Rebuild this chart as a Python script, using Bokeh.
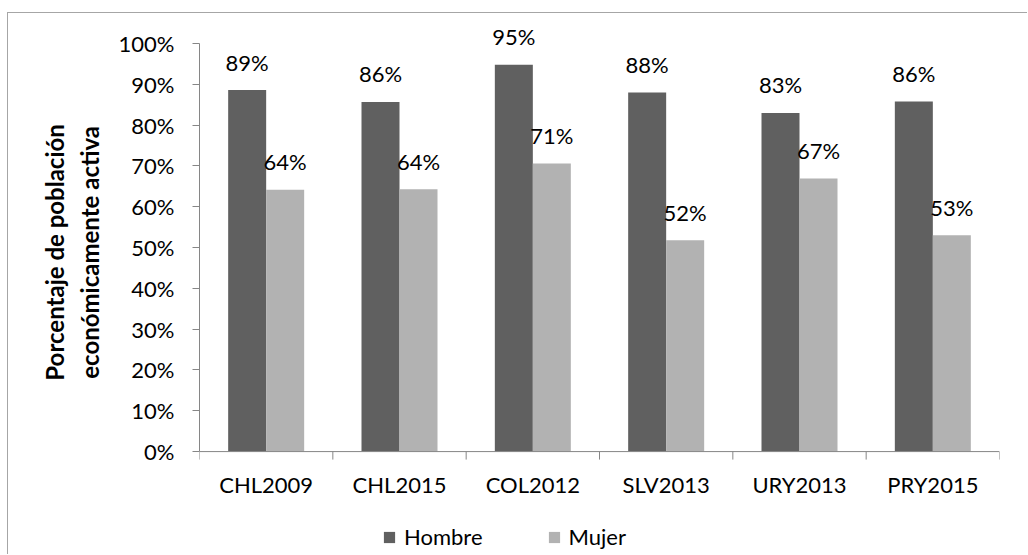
from bokeh.plotting import figure
from bokeh.models import Range1d, FixedTicker, ColumnDataSource, Legend, LegendItem
from bokeh.core.properties import value
from bokeh.embed import file_html
from bokeh.resources import INLINE

categories = ["CHL2009", "CHL2015", "COL2012", "SLV2013", "URY2013", "PRY2015"]
hombre = [88.6, 85.7, 94.8, 88.0, 83.0, 85.8]
mujer = [64.2, 64.3, 70.6, 51.8, 66.9, 53.0]
series_names = ["Hombre", "Mujer"]
y_ticks = [0, 10, 20, 30, 40, 50, 60, 70, 80, 90, 100]
y_title = ["Porcentaje de población", "económicamente activa"]

FONT = "Lato"
DARK = "#606060"
LIGHT = "#b2b2b2"
AXIS = "#868686"

n = len(categories)
centers = [i + 0.5 for i in range(n)]
bounds_x = list(range(n + 1))
half = 0.1425
x_h = [c - half for c in centers]
x_m = [c + half for c in centers]

p = figure(width=1020, height=542, output_backend="svg", toolbar_location=None,
           x_range=Range1d(0, n), y_range=Range1d(-24.0, 105.9),
           min_border_left=191, min_border_right=29, min_border_top=6, min_border_bottom=6)
p.styles = {"margin-top": "12px", "margin-left": "7px",
            "border-top": "1px solid #a6a6a6", "border-left": "1px solid #a6a6a6"}
p.outline_line_color = None
p.xgrid.visible = False
p.ygrid.visible = False
p.background_fill_color = "white"
p.border_fill_color = "white"

src_h = ColumnDataSource(dict(x=x_h, y=hombre, t=[f"{int(v + 0.5)}%" for v in hombre]))
src_m = ColumnDataSource(dict(x=x_m, y=mujer, t=[f"{int(v + 0.5)}%" for v in mujer]))
src_c = ColumnDataSource(dict(x=centers, y=[0] * n, t=categories))

r_h = p.vbar(x="x", top="y", bottom=0, width=2 * half, source=src_h,
             fill_color=DARK, line_color=None)
r_m = p.vbar(x="x", top="y", bottom=0, width=2 * half, source=src_m,
             fill_color=LIGHT, line_color=None)

for src in (src_h, src_m):
    p.text(x="x", y="y", text="t", source=src, text_align="center",
           text_baseline="alphabetic", y_offset=-28, text_font=value(FONT),
           text_font_size="22px", text_color="black")

# category axis along y = 0: line, boundary ticks and category names
tick_len = 1.96
p.xaxis.visible = False
p.segment(x0=[0], y0=[0], x1=[n], y1=[0], line_color=AXIS, line_width=1)
p.segment(x0=bounds_x, y0=[0] * (n + 1), x1=bounds_x, y1=[-tick_len] * (n + 1),
          line_color=AXIS, line_width=1)
p.text(x="x", y="y", text="t", source=src_c, text_align="center",
       text_baseline="alphabetic", y_offset=33, text_font=value(FONT),
       text_font_size="22px", text_color="black")

ya = p.yaxis[0]
ya.ticker = FixedTicker(ticks=y_ticks, minor_ticks=[])
ya.bounds = (0, 100)
ya.major_label_overrides = {t: f"{t}%" for t in y_ticks}
ya.major_tick_out = 7
ya.major_tick_in = 0
ya.major_tick_line_color = AXIS
ya.axis_line_color = AXIS
ya.major_label_standoff = 18
ya.major_label_text_font = FONT
ya.major_label_text_font_size = "22px"
ya.major_label_text_color = "black"
pad = "\u00a0" * 11
ya.axis_label = "\n".join(pad + s for s in y_title)
ya.axis_label_text_font = FONT
ya.axis_label_text_font_style = "bold"
ya.axis_label_text_font_size = "24px"
ya.axis_label_text_color = "black"
ya.axis_label_standoff = 12

legend = Legend(items=[LegendItem(label=series_names[0], renderers=[r_h]),
                       LegendItem(label=series_names[1], renderers=[r_m])],
                orientation="horizontal", location=(183, -1))
legend.padding = 0
legend.margin = 0
legend.border_line_color = None
legend.background_fill_alpha = 0
legend.glyph_width = 14
legend.glyph_height = 14
legend.label_height = 26
legend.label_standoff = 8
legend.spacing = 64
legend.label_text_font = FONT
legend.label_text_font_size = "22px"
legend.label_text_color = "black"
p.add_layout(legend, "center")

open("out.html", "w").write(file_html(p, INLINE))
